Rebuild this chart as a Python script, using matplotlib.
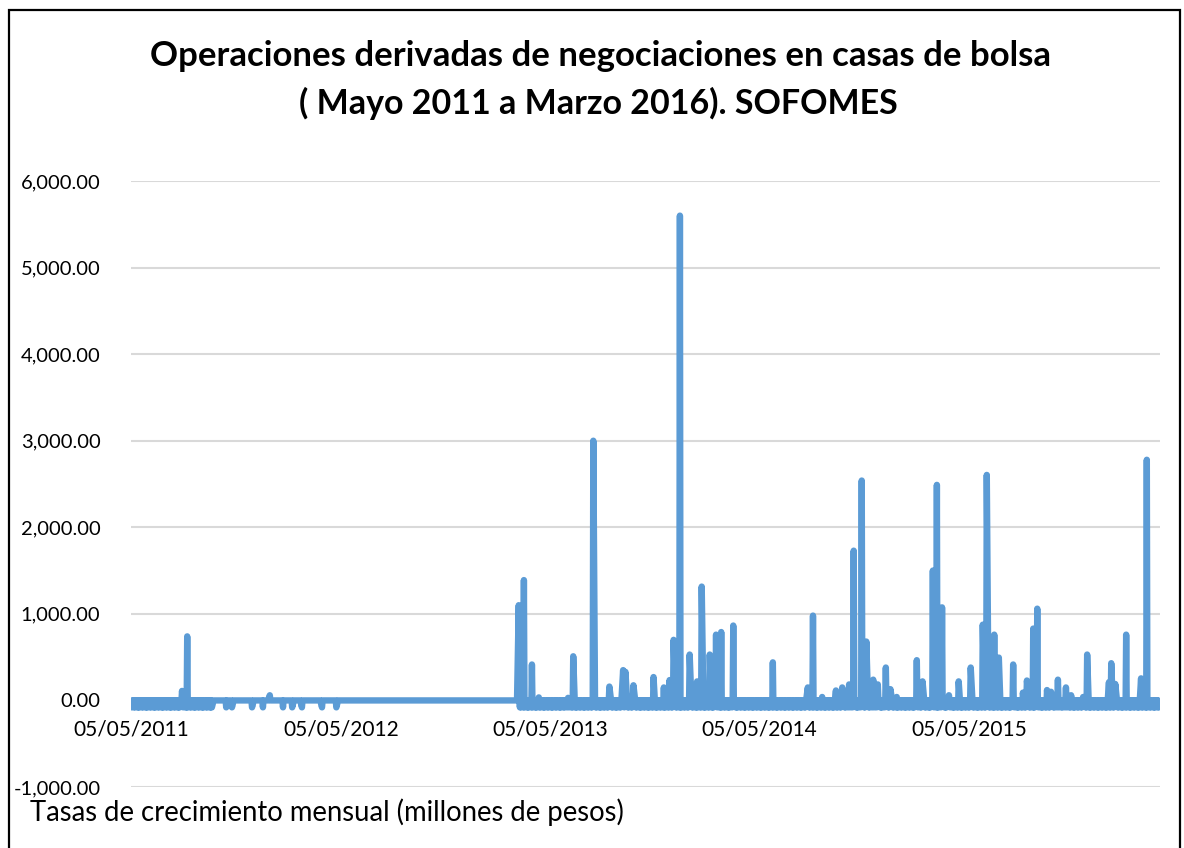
import matplotlib
matplotlib.use("Agg")
import matplotlib.pyplot as plt
import matplotlib.dates as mdates
from matplotlib.patches import Rectangle
from matplotlib.ticker import FuncFormatter, MultipleLocator
import pandas as pd

# ---------------- data ----------------
title_line1 = "Operaciones derivadas de negociaciones en casas de bolsa"
title_line2 = "( Mayo 2011 a Marzo 2016). SOFOMES"
axis_note = "Tasas de crecimiento mensual (millones de pesos)"

start_date = "2011-05-05"
end_date = "2016-03-31"
tick_dates = ["2011-05-05", "2012-05-05", "2013-05-05", "2014-05-05", "2015-05-05"]

spike_dates = [
    "2011-08-02", "2011-08-11", "2012-01-02",
    "2013-03-11", "2013-03-20", "2013-04-03", "2013-04-15", "2013-06-05", "2013-06-14",
    "2013-07-19", "2013-08-16", "2013-09-09", "2013-09-13", "2013-09-27", "2013-11-01",
    "2013-11-19", "2013-11-29", "2013-12-06", "2013-12-17",
    "2014-01-03", "2014-01-16", "2014-01-24", "2014-02-07", "2014-02-18", "2014-02-27",
    "2014-03-20", "2014-05-28", "2014-07-28", "2014-08-06", "2014-08-22", "2014-09-15",
    "2014-09-26", "2014-10-08", "2014-10-16", "2014-10-30", "2014-11-07", "2014-11-19",
    "2014-11-27", "2014-12-11", "2014-12-19", "2014-12-30",
    "2015-02-03", "2015-02-13", "2015-03-03", "2015-03-10", "2015-03-19", "2015-03-31",
    "2015-04-17", "2015-05-08", "2015-05-29", "2015-06-05", "2015-06-18", "2015-06-26",
    "2015-07-21", "2015-08-07", "2015-08-14", "2015-08-25", "2015-09-01", "2015-09-18",
    "2015-09-25", "2015-10-07", "2015-10-21", "2015-10-30", "2015-11-20", "2015-11-27",
    "2016-01-04", "2016-01-08", "2016-01-15", "2016-02-03", "2016-02-29", "2016-03-10",
]
spike_values = [
    110, 740, 60,
    1100, 1390, 415, 35, 30, 510,
    3000, 160, 350, 330, 175, 270,
    150, 235, 700, 5600,
    530, 220, 1315, 530, 760, 790,
    865, 440, 150, 980, 40, 115,
    150, 185, 1730, 2540, 680, 240,
    185, 380, 130, 40,
    465, 220, 1500, 2490, 1075, 60,
    220, 380, 875, 2605, 760, 495,
    415, 90, 230, 830, 1060, 120,
    100, 240, 150, 60, 40, 530,
    210, 430, 190, 760, 255, 2780,
]

dip_dates = ["2011-10-18", "2011-10-28", "2011-12-02", "2011-12-21", "2012-01-25",
             "2012-02-10", "2012-02-27", "2012-04-02", "2012-04-27"]
dip_value = -80
# periods where the line swings between 0 and the dip value on alternate days
band_ranges = [("2011-05-05", "2011-09-26"), ("2013-03-08", "2016-03-31")]

# ---------------- build series ----------------
idx = pd.bdate_range(start_date, end_date)
series = pd.Series(0.0, index=idx)
for a, b in band_ranges:
    sel = idx[(idx >= pd.Timestamp(a)) & (idx <= pd.Timestamp(b))]
    series[sel[1::2]] = dip_value
for d in dip_dates:
    series.iloc[idx.get_indexer([pd.Timestamp(d)], method="nearest")[0]] = dip_value
for d, v in zip(spike_dates, spike_values):
    series.iloc[idx.get_indexer([pd.Timestamp(d)], method="nearest")[0]] = v

# ---------------- figure ----------------
plt.rcParams["font.family"] = ["Lato", "DejaVu Sans"]
W, H = 1184, 848
fig = plt.figure(figsize=(W / 100, H / 100), dpi=100)
fig.patch.set_facecolor("white")

left, right, top, bottom = 131, 1160, 181, 787
ax = fig.add_axes([left / W, 1 - bottom / H, (right - left) / W, (bottom - top) / H])

ax.plot(series.index, series.values, color="#5B9BD5", linewidth=4.6,
        solid_joinstyle="round", solid_capstyle="round", zorder=3)

ax.set_ylim(-1000, 6000)
ax.set_xlim(pd.Timestamp(start_date), pd.Timestamp("2016-04-02"))
ax.yaxis.set_major_locator(MultipleLocator(1000))
ax.yaxis.set_major_formatter(FuncFormatter(lambda v, p: f"{v:,.2f}"))
ax.grid(axis="y", color="#d9d9d9", linewidth=1.5, zorder=0)
ax.set_axisbelow(True)

ax.set_xticks([pd.Timestamp(t) for t in tick_dates])
ax.xaxis.set_major_formatter(mdates.DateFormatter("%d/%m/%Y"))
ax.spines["bottom"].set_position(("data", 0))
for s in ax.spines.values():
    s.set_visible(False)
ax.tick_params(axis="x", length=0, pad=14, labelsize=15, labelcolor="black")
ax.tick_params(axis="y", length=0, pad=22, labelsize=14.5, labelcolor="black")

fig.text(601 / W, 1 - 66 / H, title_line1, ha="center", va="baseline",
         fontsize=25, fontweight="bold", color="black")
fig.text(598 / W, 1 - 114 / H, title_line2, ha="center", va="baseline",
         fontsize=24.5, fontweight="bold", color="black")
fig.text(30 / W, 1 - 821 / H, axis_note, ha="left", va="baseline",
         fontsize=19.8, color="black")

fig.add_artist(Rectangle((9 / W, -0.05), (1180 - 9) / W, 1 - 10 / H + 0.05,
                         transform=fig.transFigure, fill=False,
                         edgecolor="black", linewidth=1.6))

fig.savefig("out.png", dpi=100, facecolor="white")
